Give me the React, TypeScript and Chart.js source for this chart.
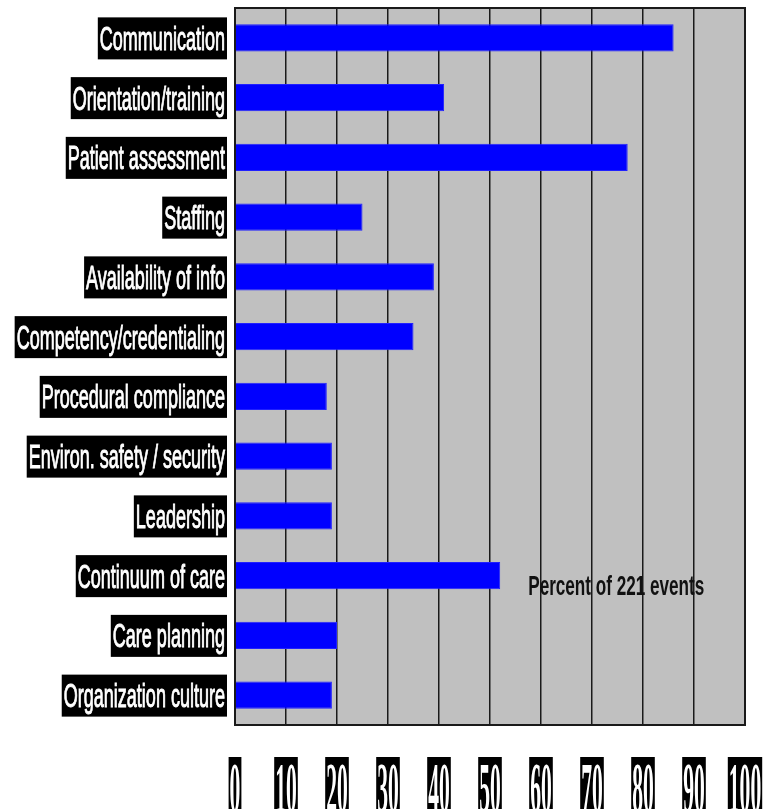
import React, { useEffect, useRef } from "react";
import { Chart, registerables } from "chart.js";

Chart.register(...registerables);

const categories = [
  "Communication",
  "Orientation/training",
  "Patient assessment",
  "Staffing",
  "Availability of info",
  "Competency/credentialing",
  "Procedural compliance",
  "Environ. safety / security",
  "Leadership",
  "Continuum of care",
  "Care planning",
  "Organization culture",
];

const percentValues = [86, 41, 77, 25, 39, 35, 18, 19, 19, 52, 20, 19];

const xTickLabels = ["0", "10", "20", "30", "40", "50", "60", "70", "80", "90", "100"];

const annotationText = "Percent of 221 events";

const W = 763;
const H = 809;

const decorPlugin = {
  id: "decor",
  beforeDraw(chart: any) {
    const { ctx, chartArea } = chart;
    ctx.save();
    ctx.fillStyle = "#ffffff";
    ctx.fillRect(0, 0, chart.width, chart.height);
    ctx.fillStyle = "#c0c0c0";
    ctx.fillRect(chartArea.left, chartArea.top, chartArea.right - chartArea.left, chartArea.bottom - chartArea.top);
    ctx.restore();
  },
  afterDraw(chart: any) {
    const { ctx, chartArea } = chart;
    const xScale = chart.scales.x;
    const yScale = chart.scales.y;
    ctx.save();
    // plot border
    ctx.strokeStyle = "#1a1a1a";
    ctx.lineWidth = 2;
    ctx.strokeRect(chartArea.left, chartArea.top, chartArea.right - chartArea.left, chartArea.bottom - chartArea.top);

    // category labels: white text on black boxes, condensed
    const sx = 0.53;
    const fontSize = 34;
    ctx.font = `${fontSize}px "Liberation Sans", Arial, sans-serif`;
    const rightEdge = chartArea.left - 8;
    categories.forEach((label, i) => {
      const y = yScale.getPixelForValue(i);
      const tw = ctx.measureText(label).width * sx;
      const pad = 2;
      const boxH = 42;
      ctx.fillStyle = "#000000";
      ctx.fillRect(rightEdge - tw - pad * 2, y - boxH / 2 + 0.5, tw + pad * 2, boxH);
      ctx.save();
      ctx.translate(rightEdge - pad, y + 12);
      ctx.scale(sx, 1);
      ctx.fillStyle = "#ffffff";
      ctx.strokeStyle = "#ffffff";
      ctx.lineWidth = 1;
      ctx.textAlign = "right";
      ctx.textBaseline = "alphabetic";
      ctx.fillText(label, 0, 0);
      ctx.strokeText(label, 0, 0);
      ctx.restore();
    });

    // x tick labels: condensed serif digits on black boxes
    const tsx = 0.3;
    ctx.font = `bold 72px "Liberation Serif", "Times New Roman", serif`;
    xTickLabels.forEach((lab) => {
      const x = xScale.getPixelForValue(Number(lab));
      const tw = ctx.measureText(lab).width * tsx;
      const pad = 1;
      ctx.fillStyle = "#000000";
      ctx.fillRect(x - tw / 2 - pad, 757, tw + pad * 2, 60);
      ctx.save();
      ctx.translate(x, 812);
      ctx.scale(tsx, 1);
      ctx.fillStyle = "#ffffff";
      ctx.textAlign = "center";
      ctx.textBaseline = "alphabetic";
      ctx.fillText(lab, 0, 0);
      ctx.restore();
    });

    // annotation
    ctx.save();
    ctx.font = `bold 28px "Liberation Sans", Arial, sans-serif`;
    const targetW = xScale.getPixelForValue(92) - xScale.getPixelForValue(57.5);
    const asx = targetW / ctx.measureText(annotationText).width;
    const ax = xScale.getPixelForValue(57.5);
    const ay = yScale.getPixelForValue(9.2);
    ctx.translate(ax, ay);
    ctx.scale(asx, 1);
    ctx.fillStyle = "#111111";
    ctx.textAlign = "left";
    ctx.textBaseline = "middle";
    ctx.fillText(annotationText, 0, 0);
    ctx.restore();

    ctx.restore();
  },
};

export default function App() {
  const canvasRef = useRef<HTMLCanvasElement | null>(null);

  useEffect(() => {
    const canvas = canvasRef.current;
    if (!canvas) return;
    const chart = new Chart(canvas, {
      type: "bar",
      data: {
        labels: categories,
        datasets: [
          {
            data: percentValues,
            backgroundColor: "#0000ff",
            borderColor: "#2020ff",
            borderWidth: 1,
            barPercentage: 0.46,
            categoryPercentage: 1,
          },
        ],
      },
      options: {
        indexAxis: "y",
        responsive: false,
        animation: false,
        layout: { padding: { left: 235, right: 18, top: 8, bottom: 84 } },
        plugins: {
          legend: { display: false },
          tooltip: { enabled: false },
        },
        scales: {
          x: {
            type: "linear",
            min: 0,
            max: 100,
            ticks: { stepSize: 10, display: false },
            grid: { color: "#1a1a1a", lineWidth: 1.5, drawTicks: false },
            border: { display: false },
          },
          y: {
            type: "category",
            display: false,
            offset: true,
          },
        },
      },
      plugins: [decorPlugin],
    });
    return () => chart.destroy();
  }, []);

  return (
    <div style={{ position: "absolute", left: 0, top: 0, width: W, height: H, overflow: "hidden", background: "#fff" }}>
      <canvas ref={canvasRef} width={W} height={H} style={{ display: "block" }} />
    </div>
  );
}
